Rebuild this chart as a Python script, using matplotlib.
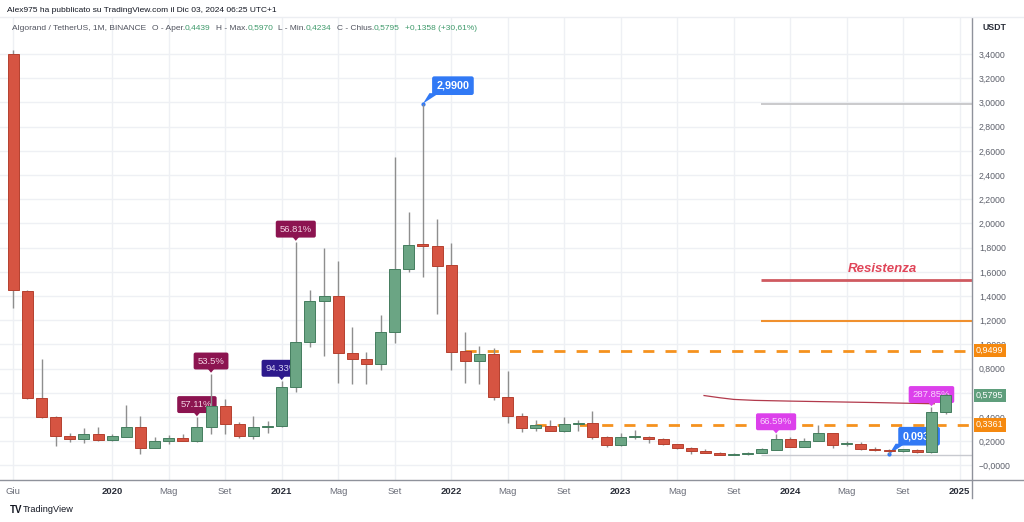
import numpy as np
import matplotlib.pyplot as plt
import matplotlib.transforms as mtransforms
from matplotlib.patches import Polygon
from matplotlib.lines import Line2D

plt.rcParams['font.family'] = ['Liberation Sans', 'DejaVu Sans']

# monthly ALGO/USDT candles, Jun 2019 .. Dec 2024
opens = [3.40, 1.445, 0.56, 0.40, 0.24, 0.217, 0.258, 0.214, 0.238, 0.316,
         0.147, 0.205, 0.227, 0.203, 0.32, 0.49, 0.34, 0.244, 0.32, 0.33,
         0.646, 1.018, 1.36, 1.40, 0.932, 0.88, 0.836, 1.106, 1.62, 1.83,
         1.81, 1.655, 0.946, 0.864, 0.924, 0.564, 0.41, 0.31, 0.33, 0.285,
         0.345, 0.354, 0.238, 0.169, 0.233, 0.238, 0.221, 0.175, 0.145, 0.12,
         0.106, 0.088, 0.095, 0.106, 0.128, 0.217, 0.153, 0.205, 0.266, 0.175,
         0.18, 0.139, 0.128, 0.117, 0.13, 0.109, 0.4439]
highs = [3.43, 1.45, 0.88, 0.41, 0.266, 0.307, 0.32, 0.258, 0.497, 0.41,
         0.233, 0.25, 0.258, 0.40, 0.76, 0.55, 0.36, 0.41, 0.37, 0.70,
         1.85, 1.45, 1.795, 1.69, 1.147, 0.94, 1.244, 2.55, 2.095, 2.99,
         2.04, 1.84, 1.10, 0.99, 0.968, 0.78, 0.436, 0.376, 0.376, 0.403,
         0.376, 0.45, 0.245, 0.266, 0.293, 0.245, 0.228, 0.18, 0.15, 0.135,
         0.112, 0.10, 0.115, 0.147, 0.258, 0.236, 0.23, 0.335, 0.27, 0.20,
         0.19, 0.15, 0.14, 0.14, 0.135, 0.483, 0.597]
lows = [1.30, 0.55, 0.39, 0.16, 0.197, 0.183, 0.20, 0.20, 0.238, 0.093,
        0.145, 0.18, 0.20, 0.19, 0.26, 0.26, 0.23, 0.216, 0.27, 0.32,
        0.61, 0.977, 0.907, 0.68, 0.67, 0.67, 0.79, 1.015, 1.60, 1.56,
        1.25, 0.79, 0.684, 0.67, 0.54, 0.35, 0.274, 0.288, 0.285, 0.274,
        0.288, 0.219, 0.155, 0.165, 0.217, 0.183, 0.17, 0.14, 0.095, 0.10,
        0.085, 0.087, 0.09, 0.10, 0.125, 0.15, 0.15, 0.20, 0.142, 0.16,
        0.13, 0.12, 0.093, 0.11, 0.105, 0.105, 0.4234]
closes = [1.45, 0.56, 0.40, 0.24, 0.217, 0.258, 0.211, 0.241, 0.316, 0.147,
          0.203, 0.227, 0.203, 0.32, 0.49, 0.34, 0.244, 0.32, 0.326, 0.647,
          1.018, 1.362, 1.40, 0.932, 0.878, 0.836, 1.106, 1.62, 1.82, 1.81,
          1.65, 0.94, 0.864, 0.92, 0.564, 0.41, 0.307, 0.332, 0.288, 0.345,
          0.35, 0.233, 0.169, 0.233, 0.241, 0.219, 0.175, 0.145, 0.12, 0.106,
          0.087, 0.095, 0.106, 0.134, 0.217, 0.155, 0.205, 0.266, 0.17, 0.185,
          0.139, 0.126, 0.117, 0.134, 0.109, 0.4439, 0.5795]

date_pos = [0, 7, 11, 15, 19, 23, 27, 31, 35, 39, 43, 47, 51, 55, 59, 63, 67]
date_labels = ['Giu', '2020', 'Mag', 'Set', '2021', 'Mag', 'Set', '2022', 'Mag',
               'Set', '2023', 'Mag', 'Set', '2024', 'Mag', 'Set', '2025']

price_ticks = [0.0, 0.2, 0.4, 0.6, 0.8, 1.0, 1.2, 1.4, 1.6, 1.8, 2.0, 2.2,
               2.4, 2.6, 2.8, 3.0, 3.2, 3.4]
# 0,6000 sits under the last-price box, so it is left blank
price_labels = ['\u22120,0000', '0,2000', '0,4000', '', '0,8000', '1,0000',
                '1,2000', '1,4000', '1,6000', '1,8000', '2,0000', '2,2000',
                '2,4000', '2,6000', '2,8000', '3,0000', '3,2000', '3,4000']

# drawn levels
ath_level = 2.99
resist_level = 1.53
orange_level = 1.19
low_level = 0.087
dash_hi, dash_hi_from = 0.9499, 32.0
dash_lo, dash_lo_from = 0.3361, 36.9
levels_from = 52.9

# thin moving line near the end
ma_x = [48.9, 50.0, 51.0, 52.5, 55.0, 58.0, 61.0, 63.0, 65.2]
ma_y = [0.578, 0.560, 0.546, 0.538, 0.532, 0.526, 0.520, 0.515, 0.510]

# percentage tags on candle highs
pct_tags = [(14, '53.5%', '#8c1450', '#f3d3e3'),
            (13, '57.11%', '#8c1450', '#f3d3e3'),
            (19, '94.33%', '#2d198c', '#d9d3f3'),
            (20, '56.81%', '#8c1450', '#f3d3e3'),
            (54, '66.59%', '#dc40eb', '#fad6fd'),
            (65, '287.85%', '#dc40eb', '#fad6fd')]

RED, RED_E = '#d65442', '#b5402f'
GREEN, GREEN_E = '#6ba584', '#447d5e'
WICK = '#8e8e8e'
GRID = '#eef0f4'

fig = plt.figure(figsize=(10.24, 5.22), dpi=100)
ax = fig.add_axes([0, 42 / 522, 972 / 1024, 462 / 522])
ax.set_xlim(-0.94, 67.87)
ax.set_ylim(-0.12, 3.698)

x = np.arange(len(opens))
o = np.array(opens)
c = np.array(closes)
up = c >= o
body_lo = np.minimum(o, c)
body_h = np.maximum(np.abs(c - o), 0.006)

ax.vlines(x, lows, highs, color=WICK, lw=1, zorder=4)
ax.bar(x[up], body_h[up], bottom=body_lo[up], width=0.78,
       color=GREEN, edgecolor=GREEN_E, lw=0.7, zorder=5)
ax.bar(x[~up], body_h[~up], bottom=body_lo[~up], width=0.78,
       color=RED, edgecolor=RED_E, lw=0.7, zorder=5)

xr = ax.get_xlim()[1]
ax.hlines(ath_level, levels_from, xr, color='#c6c6c8', lw=1.3, zorder=2)
ax.hlines(resist_level, levels_from, xr, color='#cf5a60', lw=2, zorder=2)
ax.hlines(orange_level, levels_from, xr, color='#f0902e', lw=1.5, zorder=2)
ax.hlines(low_level, levels_from, xr, color='#c8cad0', lw=1, zorder=2)
ax.hlines(dash_hi, dash_hi_from, xr, color='#f5921e', lw=2, ls=(0, (4, 4)), zorder=2)
ax.hlines(dash_lo, dash_lo_from, xr, color='#f5921e', lw=2, ls=(0, (4, 4)), zorder=2)
ax.plot(ma_x, ma_y, color='#b23a4c', lw=0.9, zorder=2)

ax.text(61.55, resist_level + 0.095, 'Resistenza', color='#e0465a', fontsize=9.5,
        fontweight='bold', style='italic', ha='center', va='center')


def anchor(m, v):
    return fig.dpi_scale_trans + mtransforms.ScaledTranslation(m, v, ax.transData)


for m, txt, fc, tc in pct_tags:
    tr = anchor(m, highs[m])
    ax.add_patch(Polygon([(-0.04, 0.055), (0.04, 0.055), (0, 0.008)], closed=True,
                         transform=tr, fc=fc, ec='none', zorder=3))
    ax.text(0, 0.125, txt, transform=tr, ha='center', va='center', color=tc,
            fontsize=6.8, zorder=3,
            bbox=dict(boxstyle='round,pad=0.42,rounding_size=0.2', fc=fc, ec='none'))

# blue price callouts (ATH and cycle low)
for m, v, txt in [(29, highs[29], '2,9900'), (62, lows[62], '0,0932')]:
    tr = anchor(m, v)
    ax.add_patch(Polygon([(0, 0), (0.065, 0.105), (0.16, 0.105)], closed=True,
                         transform=tr, fc='#3179f5', ec='none', zorder=3))
    ax.plot([0], [0], 'o', ms=2, color='#3179f5', transform=tr, zorder=3)
    ax.text(0.30, 0.18, txt, transform=tr, ha='center', va='center', color='white',
            fontsize=7.8, fontweight='bold', zorder=3,
            bbox=dict(boxstyle='round,pad=0.4,rounding_size=0.2', fc='#3179f5', ec='none'))

# axes styling
for s in ax.spines.values():
    s.set_visible(False)
ax.set_xticks(date_pos)
ax.set_xticklabels(date_labels)
for lab in ax.get_xticklabels():
    if lab.get_text().isdigit():
        lab.set_fontweight('bold')
        lab.set_color('#2a2e39')
    else:
        lab.set_color('#6a6d78')
ax.tick_params(axis='x', length=0, pad=5, labelsize=6.8)
ax.yaxis.tick_right()
ax.set_yticks(price_ticks)
ax.set_yticklabels(price_labels)
ax.tick_params(axis='y', length=0, pad=5, labelsize=6.3, labelcolor='#5d606b')
ax.grid(True, color=GRID, lw=1)
ax.set_axisbelow(True)

# price boxes on the right scale
blend = mtransforms.blended_transform_factory(ax.transAxes, ax.transData)
for v, txt, fc in [(dash_hi, '0,9499', '#f5890f'), (closes[-1], '0,5795', '#5f9e7c'),
                   (dash_lo, '0,3361', '#f5890f')]:
    ax.text(1.004, v, txt, transform=blend, ha='left', va='center', color='white',
            fontsize=6.5, clip_on=False, zorder=6,
            bbox=dict(boxstyle='square,pad=0.25', fc=fc, ec='none'))

# frame lines
fig.add_artist(Line2D([972 / 1024, 972 / 1024], [1 - 498 / 522, 1 - 18 / 522],
                      color='#8f929b', lw=1))
fig.add_artist(Line2D([0, 1], [1 - 480 / 522, 1 - 480 / 522], color='#8f929b', lw=1))
fig.add_artist(Line2D([0, 1], [1 - 17 / 522, 1 - 17 / 522], color='#eceef2', lw=1))

fig.text(994 / 1024, 1 - 28 / 522, 'USDT', ha='center', va='center', fontsize=6.3,
         color='#2a2e39', fontweight='bold')

# header
fig.text(7 / 1024, 1 - 10 / 522, 'Alex975 ha pubblicato su TradingView.com il Dic 03, 2024 06:25 UTC+1',
         ha='left', va='center', fontsize=6.05, color='#131722')

legend_parts = [('Algorand / TetherUS, 1M, BINANCE', '#50535e', 0),
                ('O - Aper.', '#50535e', 5), ('0,4439', '#3f9a6b', 0),
                ('H - Max.', '#50535e', 5), ('0,5970', '#3f9a6b', 0),
                ('L - Min.', '#50535e', 5), ('0,4234', '#3f9a6b', 0),
                ('C - Chius.', '#50535e', 5), ('0,5795', '#3f9a6b', 0),
                ('+0,1358 (+30,61%)', '#3f9a6b', 5)]
renderer = fig.canvas.get_renderer()
px = 12.5
for txt, col, gap in legend_parts:
    px += gap
    t = fig.text(px / 1024, 1 - 28 / 522, txt, ha='left', va='center',
                 fontsize=6.0, color=col)
    px += t.get_window_extent(renderer).width

fig.text(10 / 1024, 1 - 510 / 522, 'TV', ha='left', va='center', fontsize=7,
         fontweight='bold', color='#131722')
fig.text(23 / 1024, 1 - 510 / 522, 'TradingView', ha='left', va='center', fontsize=6.6,
         color='#131722')

fig.savefig('out.png', dpi=100, facecolor='white')
